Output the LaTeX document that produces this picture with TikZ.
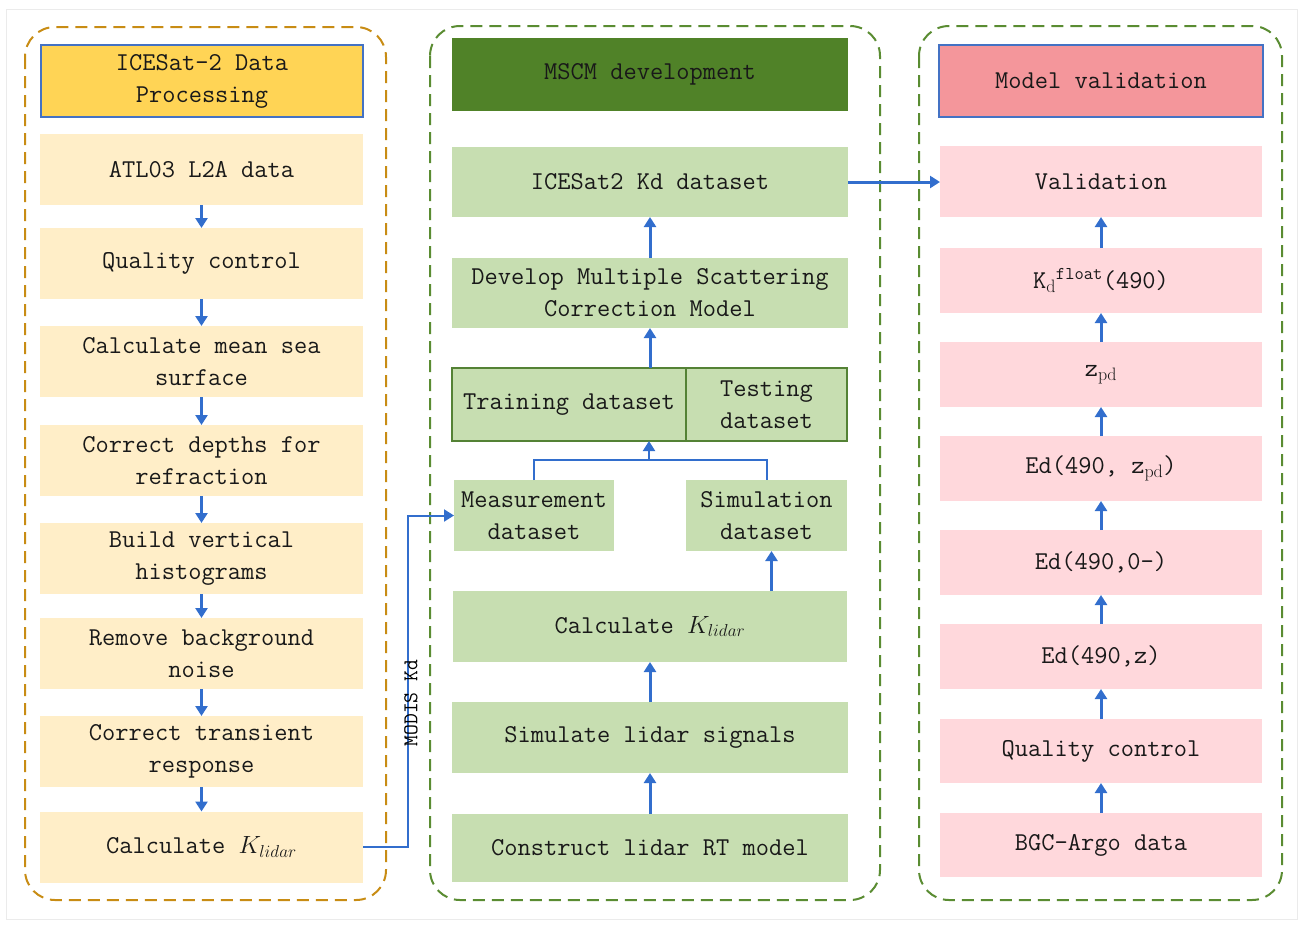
\documentclass[tikz,border=0pt]{standalone}
\usepackage{fontspec}
\usetikzlibrary{arrows.meta}
\definecolor{lcont}{RGB}{200,140,20}
\definecolor{gcont}{RGB}{90,140,50}
\definecolor{lhead}{RGB}{255,212,85}
\definecolor{lfill}{RGB}{255,238,200}
\definecolor{mhead}{RGB}{80,130,40}
\definecolor{mfill}{RGB}{199,222,177}
\definecolor{mborder}{RGB}{84,130,53}
\definecolor{rhead}{RGB}{244,150,155}
\definecolor{rfill}{RGB}{255,216,220}
\definecolor{hborder}{RGB}{68,114,196}
\definecolor{arr}{RGB}{50,110,205}
\newcommand\myfs{\fontsize{25.7}{32}\selectfont\ttfamily}
\tikzset{
  cont/.style={dash pattern=on 12pt off 7pt, line width=2pt, rounded corners=30pt},
  boxbase/.style={inner sep=0pt, outer sep=0pt, align=center, font=\myfs, text=black!90},
  lbox/.style={boxbase, fill=lfill, minimum width=323pt, minimum height=71pt},
  mbox/.style={boxbase, fill=mfill, minimum width=396pt, minimum height=71pt},
  rbox/.style={boxbase, fill=rfill, minimum width=322pt, minimum height=65pt},
  hbox/.style={boxbase, draw=hborder, line width=1.5pt},
  arrowline/.style={draw=arr, line width=3pt, -{Triangle[width=12pt,length=10pt]}},
  thinline/.style={draw=arr, line width=2pt},
}
\begin{document}
\begin{tikzpicture}[x=1pt,y=-1pt]
\useasboundingbox (0,0) rectangle (1303,924);
\draw[black!8, line width=1pt] (6,9) rectangle (1297,919);

% containers
\draw[cont, draw=lcont] (25,27) rectangle (386,900);
\draw[cont, draw=gcont] (430,26) rectangle (880,900);
\draw[cont, draw=gcont] (919,26) rectangle (1282,900);

% left column
\node[hbox, fill=lhead, minimum width=322pt, minimum height=72pt] (lh) at (202,81) {ICESat-2 Data\\Processing};
\node[lbox] (a1) at (201.5,169.5) {ATL03 L2A data};
\node[lbox] (a2) at (201.5,263.5) {Quality control};
\node[lbox] (a3) at (201.5,361.5) {Calculate mean sea\\surface};
\node[lbox] (a4) at (201.5,460.5) {Correct depths for\\refraction};
\node[lbox] (a5) at (201.5,558.5) {Build vertical\\histograms};
\node[lbox] (a6) at (201.5,653.5) {Remove background\\noise};
\node[lbox] (a7) at (201.5,751.5) {Correct transient\\response};
\node[lbox] (a8) at (201.5,847) {Calculate $K_{lidar}$};
\foreach \p/\q in {a1/a2,a2/a3,a3/a4,a4/a5,a5/a6,a6/a7,a7/a8}
  \draw[arrowline] (\p.south) -- (\q.north);

% middle column
\node[boxbase, fill=mhead, minimum width=396pt, minimum height=73pt] (mh) at (650,74.5) {MSCM development};
\node[mbox, minimum height=70pt] (m1) at (650,182) {ICESat2 Kd dataset};
\node[mbox, minimum height=70pt] (m2) at (650,293) {Develop Multiple Scattering\\Correction Model};
\node[boxbase, fill=mfill, draw=mborder, line width=2pt, minimum width=234pt, minimum height=73pt] (tr) at (569,404.5) {Training dataset};
\node[boxbase, fill=mfill, draw=mborder, line width=2pt, minimum width=161pt, minimum height=73pt] (te) at (766.5,404.5) {Testing\\dataset};
\node[boxbase, fill=mfill, minimum width=160pt, minimum height=71pt] (meas) at (534,515.5) {Measurement\\dataset};
\node[boxbase, fill=mfill, minimum width=161pt, minimum height=71pt] (sim) at (766.5,515.5) {Simulation\\dataset};
\node[mbox, minimum width=394pt] (ck) at (650,626.5) {Calculate $K_{lidar}$};
\node[mbox] (sl) at (650,737.5) {Simulate lidar signals};
\node[mbox, minimum height=68pt] (rt) at (650,848) {Construct lidar RT model};

\draw[arrowline] (m2.north) -- (m1.south);
\coordinate (mt) at (650,368);
\draw[arrowline] (mt) -- (m2.south);
\coordinate (mj) at (649,460);
\draw[thinline] (meas.north) |- (mj) -| (sim.north);
\draw[thinline, -{Triangle[width=12pt,length=10pt]}] (mj) -- (mj |- tr.south);
\coordinate (sj) at ([xshift=5pt]sim.south);
\draw[arrowline] (sj |- ck.north) -- (sj);
\draw[arrowline] (sl.north) -- (ck.south);
\draw[arrowline] (rt.north) -- (sl.south);

% right column
\node[hbox, fill=rhead, minimum width=324pt, minimum height=72pt] (rh) at (1101,81) {Model validation};
\node[rbox, minimum height=71pt] (r1) at (1101,181.5) {Validation};
\node[rbox] (r2) at (1101,280.5) {K$_{\mathrm{d}}{}^{\mathtt{float}}$(490)};
\node[rbox] (r3) at (1101,374.5) {z$_{\mathrm{pd}}$};
\node[rbox] (r4) at (1101,468.5) {Ed(490, z$_{\mathrm{pd}}$)};
\node[rbox] (r5) at (1101,562.5) {Ed(490,0-)};
\node[rbox] (r6) at (1101,656.5) {Ed(490,z)};
\node[rbox, minimum height=64pt] (r7) at (1101,751) {Quality control};
\node[rbox, minimum height=64pt] (r8) at (1101,845) {BGC-Argo data};
\foreach \p/\q in {r2/r1,r3/r2,r4/r3,r5/r4,r6/r5,r7/r6,r8/r7}
  \draw[arrowline] (\p.north) -- (\q.south);

% cross connectors
\draw[arrowline] (m1.east) -- (m1.east -| r1.west);
\coordinate (mk) at (408,847);
\draw[thinline, -{Triangle[width=12pt,length=10pt]}] (a8.east) -- (mk) |- (meas.west);
\node[rotate=90, font=\fontsize{21}{24}\selectfont\ttfamily, inner sep=0pt] (modis) at (411,703) {MODIS Kd};
\end{tikzpicture}
\end{document}
